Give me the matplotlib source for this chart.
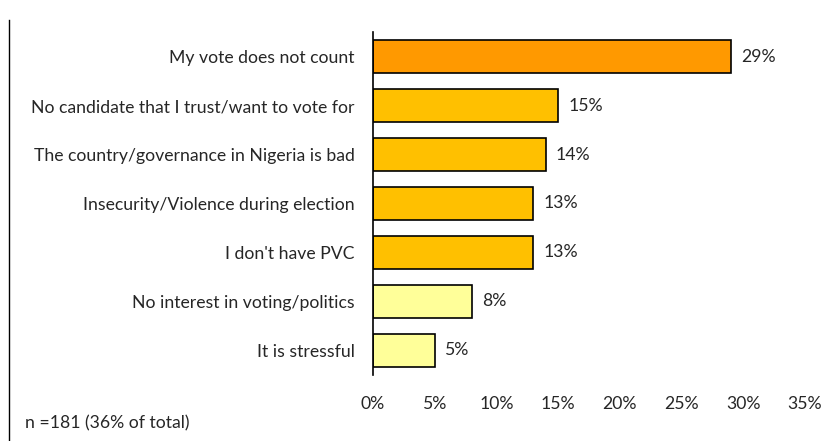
import matplotlib
matplotlib.use("Agg")
import matplotlib.pyplot as plt
from matplotlib.lines import Line2D
from matplotlib.ticker import FuncFormatter

# reasons for not voting, share of respondents (%)
reasons = [
    "My vote does not count",
    "No candidate that I trust/want to vote for",
    "The country/governance in Nigeria is bad",
    "Insecurity/Violence during election",
    "I don't have PVC",
    "No interest in voting/politics",
    "It is stressful",
]
shares = [29, 15, 14, 13, 13, 8, 5]
bar_colors = ["#FF9900", "#FFC000", "#FFC000", "#FFC000", "#FFC000", "#FFFF99", "#FFFF99"]
x_ticks = [0, 5, 10, 15, 20, 25, 30, 35]
note = "n =181 (36% of total)"

plt.rcParams["font.family"] = ["Lato", "DejaVu Sans"]
plt.rcParams["font.size"] = 12.7
txt_color = "#262626"

fig = plt.figure(figsize=(8.39, 4.41), dpi=100)
ax = fig.add_axes([0.4446, 0.1497, 0.5149, 0.7777])

pos = list(range(len(reasons)))
ax.barh(pos, shares, height=0.69, color=bar_colors, edgecolor="black", linewidth=1.2)

for p, v in zip(pos, shares):
    ax.text(v + 0.8, p, f"{v}%", va="center", ha="left", color=txt_color)

ax.set_xlim(0, 35)
ax.set_ylim(6.5, -0.5)
ax.set_yticks(pos)
ax.set_yticklabels(reasons, color=txt_color)
ax.set_xticks(x_ticks)
ax.xaxis.set_major_formatter(FuncFormatter(lambda v, _: f"{v:.0f}%"))
ax.tick_params(axis="both", length=0, colors=txt_color)
ax.tick_params(axis="y", pad=13)
ax.tick_params(axis="x", pad=15)
for side in ["top", "right", "bottom"]:
    ax.spines[side].set_visible(False)
ax.spines["left"].set_linewidth(1.2)

fig.add_artist(Line2D([9 / 839, 9 / 839], [0, 1 - 20 / 441], transform=fig.transFigure,
                      color="black", linewidth=1))
fig.text(25 / 839, 1 - 423 / 441, note, va="center", ha="left", fontsize=12.7, color=txt_color)

fig.savefig("out.png", dpi=100)
